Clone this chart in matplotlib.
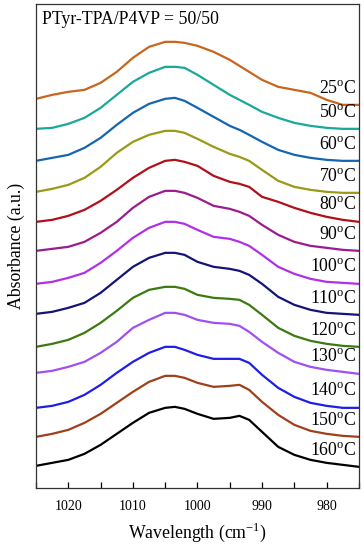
import matplotlib
matplotlib.use("Agg")
import matplotlib.pyplot as plt
from matplotlib.ticker import MultipleLocator

plt.rcParams["font.family"] = ["Liberation Serif", "DejaVu Serif"]
plt.rcParams["mathtext.fontset"] = "custom"
plt.rcParams["mathtext.rm"] = "Liberation Serif"

# wavenumber grid (cm-1) the curves were read at
wavenumber = [1025, 1022.5, 1020, 1017.5, 1015, 1012.5, 1010, 1007.5, 1005, 1003.5,
              1002, 1000, 997.5, 995, 993.5, 992, 990, 987.5, 985, 982.5, 980,
              977.5, 975]

temps = ["25", "50", "60", "70", "80", "90", "100", "110", "120", "130",
         "140", "150", "160"]

a_25 = [3.91, 3.95, 3.98, 4.00, 4.07, 4.18, 4.32, 4.43, 4.48, 4.48, 4.47, 4.44,
        4.38, 4.30, 4.24, 4.18, 4.10, 4.03, 4.00, 3.97, 3.90, 3.85, 3.85]
a_50 = [3.61, 3.62, 3.66, 3.72, 3.82, 3.95, 4.08, 4.17, 4.23, 4.23, 4.22, 4.15,
        4.05, 3.95, 3.90, 3.85, 3.78, 3.72, 3.67, 3.64, 3.62, 3.61, 3.61]
a_60 = [3.29, 3.32, 3.35, 3.42, 3.52, 3.65, 3.77, 3.86, 3.91, 3.92, 3.89, 3.82,
        3.73, 3.64, 3.60, 3.55, 3.48, 3.40, 3.35, 3.32, 3.30, 3.29, 3.29]
a_70 = [2.98, 3.01, 3.05, 3.12, 3.23, 3.37, 3.48, 3.55, 3.59, 3.59, 3.57, 3.51,
        3.43, 3.36, 3.33, 3.29, 3.20, 3.09, 3.03, 3.00, 2.98, 2.97, 2.97]
a_80 = [2.68, 2.70, 2.74, 2.80, 2.89, 3.00, 3.12, 3.22, 3.29, 3.30, 3.28, 3.24,
        3.14, 3.08, 3.06, 3.03, 2.93, 2.88, 2.82, 2.77, 2.73, 2.70, 2.68]
a_90 = [2.39, 2.41, 2.43, 2.48, 2.57, 2.68, 2.82, 2.93, 2.99, 2.99, 2.97, 2.92,
        2.84, 2.81, 2.78, 2.74, 2.65, 2.55, 2.48, 2.44, 2.42, 2.40, 2.39]
a_100 = [2.06, 2.08, 2.12, 2.17, 2.27, 2.39, 2.52, 2.62, 2.68, 2.68, 2.66, 2.60,
         2.53, 2.51, 2.48, 2.44, 2.35, 2.23, 2.16, 2.11, 2.08, 2.07, 2.06]
a_110 = [1.76, 1.78, 1.82, 1.87, 1.97, 2.10, 2.23, 2.32, 2.37, 2.37, 2.35, 2.28,
         2.23, 2.21, 2.19, 2.15, 2.06, 1.93, 1.85, 1.80, 1.77, 1.76, 1.75]
a_120 = [1.43, 1.46, 1.50, 1.57, 1.67, 1.79, 1.92, 2.00, 2.03, 2.03, 2.01, 1.95,
         1.92, 1.91, 1.90, 1.85, 1.75, 1.62, 1.54, 1.49, 1.46, 1.44, 1.43]
a_130 = [1.17, 1.19, 1.23, 1.28, 1.37, 1.48, 1.62, 1.70, 1.77, 1.77, 1.75, 1.70,
         1.67, 1.66, 1.64, 1.58, 1.48, 1.37, 1.28, 1.23, 1.20, 1.18, 1.16]
a_140 = [0.82, 0.84, 0.88, 0.95, 1.05, 1.17, 1.28, 1.37, 1.43, 1.43, 1.40, 1.35,
         1.31, 1.31, 1.31, 1.27, 1.15, 1.02, 0.93, 0.87, 0.84, 0.82, 0.82]
a_150 = [0.53, 0.56, 0.60, 0.67, 0.76, 0.87, 0.98, 1.08, 1.14, 1.14, 1.12, 1.07,
         1.03, 1.04, 1.05, 1.00, 0.88, 0.75, 0.65, 0.59, 0.56, 0.54, 0.53]
a_160 = [0.24, 0.27, 0.30, 0.36, 0.45, 0.56, 0.67, 0.77, 0.82, 0.83, 0.81, 0.76,
         0.71, 0.72, 0.74, 0.70, 0.58, 0.43, 0.35, 0.30, 0.27, 0.25, 0.23]

spectra = [a_25, a_50, a_60, a_70, a_80, a_90, a_100, a_110, a_120, a_130,
           a_140, a_150, a_160]
colors = ["#C8651E", "#1AA89A", "#1565B0", "#9A9A18", "#B0101A", "#9C1C8C",
          "#B030E8", "#141478", "#3C7A10", "#A050F0", "#1E1EE6", "#A0401A",
          "#000000"]

fig = plt.figure(figsize=(3.64, 5.5), dpi=100)
ax = fig.add_axes([0.099, 0.113, 0.887, 0.880])

for t, y, c in zip(temps, spectra, colors):
    ax.plot(wavenumber, y, color=c, lw=1.6, solid_joinstyle="round")
    ax.text(975.4, y[-1] + 0.16, t + r"$^{\rm o}$C", ha="right", va="center",
            fontsize=12.8)

ax.text(0.02, 0.985, "PTyr-TPA/P4VP = 50/50", transform=ax.transAxes,
        ha="left", va="top", fontsize=12.8)

ax.set_xlim(1025, 975)
ax.set_ylim(0.02, 4.86)
ax.xaxis.set_major_locator(MultipleLocator(10))
ax.xaxis.set_minor_locator(MultipleLocator(5))
ax.tick_params(axis="x", which="both", direction="in", length=4, width=0.9,
               labelsize=10, pad=9)
ax.set_yticks([])
for s in ax.spines.values():
    s.set_color("#333333")
    s.set_linewidth(0.9)

ax.set_xlabel(r"Wavelength (cm$^{-1}$)", fontsize=12.8, labelpad=5)
ax.set_ylabel("Absorbance (a.u.)", fontsize=12.8, labelpad=8)

fig.savefig("out.png", dpi=100)
